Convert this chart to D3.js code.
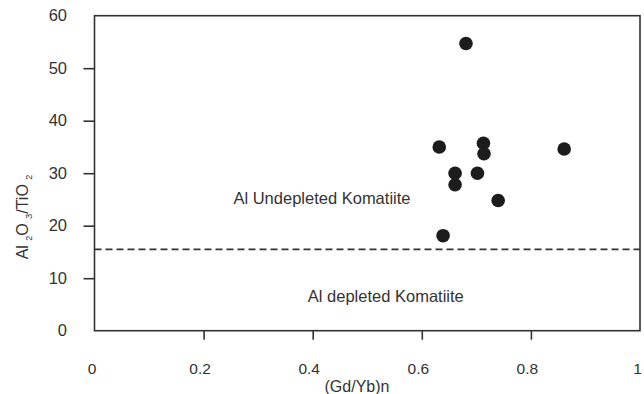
<!DOCTYPE html>
<html>
<head>
<meta charset="utf-8">
<script src="https://cdn.jsdelivr.net/npm/d3@7"></script>
<style>
  body { margin: 0; background: #fff; }
  svg text { font-family: "Liberation Sans", Arial, sans-serif; fill: #333; }
</style>
</head>
<body>
<svg id="chart" width="644" height="394"></svg>
<script>
// Al2O3/TiO2 vs (Gd/Yb)n scatter
var gdYb = [0.681, 0.632, 0.713, 0.714, 0.861, 0.661, 0.702, 0.661, 0.740, 0.639];
var alTi = [54.7, 35.0, 35.7, 33.7, 34.6, 30.0, 30.0, 27.8, 24.8, 18.1];
var xTicks = [0, 0.2, 0.4, 0.6, 0.8, 1];
var yTicks = [0, 10, 20, 30, 40, 50, 60];
var boundary = 15.5;
var zoneLabels = ["Al Undepleted Komatiite", "Al depleted Komatiite"];
var zoneX = [0.417, 0.534];
var zoneY = [24.2, 5.4];

var svg = d3.select("#chart");
var x = d3.scaleLinear().domain([0, 1]).range([94.5, 640]);
var y = d3.scaleLinear().domain([0, 60]).range([330.7, 15.7]);
var ink = "#333";

// frame
svg.append("rect")
  .attr("x", x(0)).attr("y", y(60))
  .attr("width", x(1) - x(0)).attr("height", y(0) - y(60))
  .attr("fill", "none").attr("stroke", ink).attr("stroke-width", 1.6);

// x axis: tick marks only inside, labels pushed down
var xa = svg.append("g").attr("transform", "translate(0," + y(0) + ")")
  .call(d3.axisBottom(x).tickValues(xTicks).tickSize(9).tickPadding(23)
    .tickFormat(function (d) { return d === 0 || d === 1 ? d3.format("d")(d) : d3.format(".1f")(d); }));
xa.select(".domain").remove();
xa.selectAll(".tick line").attr("stroke", ink).attr("stroke-width", 1.6)
  .filter(function (d) { return d === 0 || d === 1; }).remove();
xa.selectAll(".tick text").attr("font-size", 15.5).attr("fill", ink)
  .attr("dx", function (d) { return d === 0 || d === 1 ? -3 : -4; });

// y axis, labels sit well clear of the ticks
var ya = svg.append("g").attr("transform", "translate(" + x(0) + ",0)")
  .call(d3.axisLeft(y).tickValues(yTicks).tickSize(11).tickPadding(3));
ya.select(".domain").remove();
ya.selectAll(".tick line").attr("stroke", ink).attr("stroke-width", 1.6)
  .filter(function (d) { return d === 0 || d === 60; }).remove();
ya.selectAll(".tick text").attr("font-size", 16.5).attr("fill", ink).attr("x", -27.5);

// boundary line
svg.append("line")
  .attr("x1", x(0)).attr("x2", x(1))
  .attr("y1", y(boundary)).attr("y2", y(boundary))
  .attr("stroke", ink).attr("stroke-width", 1.6).attr("stroke-dasharray", "7,4");

// zone labels
svg.selectAll("text.zone").data(zoneLabels).enter().append("text")
  .attr("class", "zone")
  .attr("x", function (d, i) { return x(zoneX[i]); })
  .attr("y", function (d, i) { return y(zoneY[i]); })
  .attr("text-anchor", "middle").attr("font-size", 16.5)
  .text(function (d) { return d; });

// points
svg.selectAll("circle.pt").data(gdYb).enter().append("circle")
  .attr("class", "pt")
  .attr("cx", function (d) { return x(d); })
  .attr("cy", function (d, i) { return y(alTi[i]); })
  .attr("r", 6.8).attr("fill", "#1c1c1c");

// axis titles
svg.append("text")
  .attr("x", 357).attr("y", 392)
  .attr("text-anchor", "middle").attr("font-size", 16)
  .text("(Gd/Yb)n");

var yt = svg.append("text")
  .attr("transform", "translate(28,217) rotate(-90)")
  .attr("text-anchor", "middle").attr("font-size", 16);
var parts = [["Al ", 0], ["2", 1], ["O ", 0], ["3", 1], ["/TiO ", 0], ["2", 1]];
parts.forEach(function (p, i) {
  var t = yt.append("tspan").text(p[0]);
  if (p[1]) t.attr("font-size", 9).attr("dy", 4);
  else if (i > 0) t.attr("dy", -4);
});
</script>
</body>
</html>
